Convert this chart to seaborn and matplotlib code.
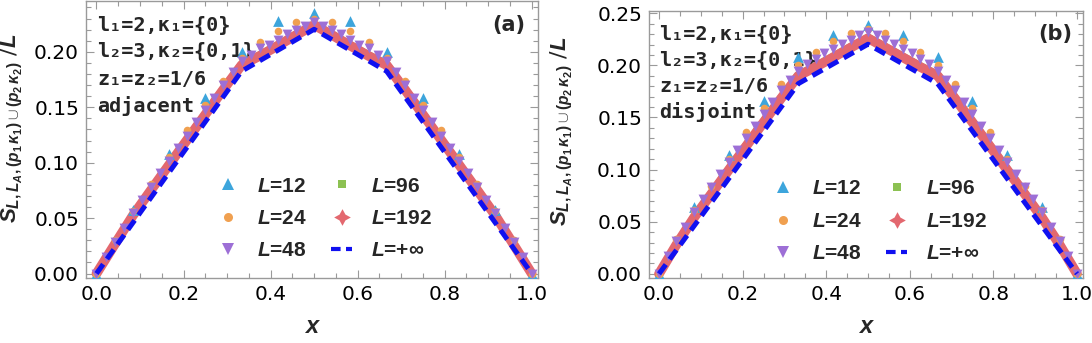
import numpy as np
import pandas as pd
import matplotlib
matplotlib.use("Agg")
import matplotlib.pyplot as plt
import seaborn as sns
from matplotlib.lines import Line2D
from matplotlib.ticker import MultipleLocator, FormatStrFormatter

# ---------------------------------------------------------------- data
# S/L sampled at x = k/L for each chain length (panel a: adjacent, panel b: disjoint)
L12_a = [0, 0.0570, 0.1080, 0.1580, 0.1995, 0.2276, 0.2346, 0.2276, 0.1995, 0.1580, 0.1080, 0.0570, 0]
L24_a = [0, 0.0300, 0.0560, 0.0806, 0.1050, 0.1295, 0.1520, 0.1740, 0.1940, 0.2090, 0.2190, 0.2270, 0.2300,
         0.2270, 0.2190, 0.2090, 0.1940, 0.1740, 0.1520, 0.1295, 0.1050, 0.0806, 0.0560, 0.0300, 0]
L48_a = [0, 0.0150, 0.0284, 0.0415, 0.0545, 0.0660, 0.0785, 0.0905, 0.1015, 0.1130, 0.1245, 0.1365, 0.1475,
         0.1585, 0.1700, 0.1815, 0.1915, 0.1975, 0.2030, 0.2065, 0.2110, 0.2160, 0.2195, 0.2235, 0.2270,
         0.2235, 0.2195, 0.2160, 0.2110, 0.2065, 0.2030, 0.1975, 0.1915, 0.1815, 0.1700, 0.1585, 0.1475,
         0.1365, 0.1245, 0.1130, 0.1015, 0.0905, 0.0785, 0.0660, 0.0545, 0.0415, 0.0284, 0.0150, 0]
# L=96 and L=192 listed on the x = k/24 sub-grid
L96_a = [0, 0.0270, 0.0532, 0.0762, 0.0990, 0.1218, 0.1445, 0.1672, 0.1892, 0.1974, 0.2066, 0.2161, 0.2253,
         0.2161, 0.2066, 0.1974, 0.1892, 0.1672, 0.1445, 0.1218, 0.0990, 0.0762, 0.0532, 0.0270, 0]
L192_a = [0, 0.0262, 0.0522, 0.0752, 0.0980, 0.1207, 0.1434, 0.1661, 0.1880, 0.1963, 0.2055, 0.2150, 0.2242,
          0.2150, 0.2055, 0.1963, 0.1880, 0.1661, 0.1434, 0.1207, 0.0980, 0.0752, 0.0522, 0.0262, 0]

L12_b = [0, 0.0640, 0.1143, 0.1660, 0.2085, 0.2292, 0.2388, 0.2292, 0.2085, 0.1660, 0.1143, 0.0640, 0]
L24_b = [0, 0.0330, 0.0615, 0.0846, 0.1105, 0.1362, 0.1590, 0.1820, 0.2005, 0.2132, 0.2238, 0.2314, 0.2345,
         0.2314, 0.2238, 0.2132, 0.2005, 0.1820, 0.1590, 0.1362, 0.1105, 0.0846, 0.0615, 0.0330, 0]
L48_b = [0, 0.0175, 0.0315, 0.0450, 0.0590, 0.0720, 0.0835, 0.0955, 0.1070, 0.1190, 0.1300, 0.1414, 0.1535,
         0.1653, 0.1760, 0.1860, 0.1950, 0.2010, 0.2065, 0.2115, 0.2160, 0.2205, 0.2245, 0.2290, 0.2325,
         0.2290, 0.2245, 0.2205, 0.2160, 0.2115, 0.2065, 0.2010, 0.1950, 0.1860, 0.1760, 0.1653, 0.1535,
         0.1414, 0.1300, 0.1190, 0.1070, 0.0955, 0.0835, 0.0720, 0.0590, 0.0450, 0.0315, 0.0175, 0]
L96_b = [0, 0.0290, 0.0550, 0.0780, 0.1010, 0.1240, 0.1468, 0.1696, 0.1915, 0.1998, 0.2090, 0.2182, 0.2272,
         0.2182, 0.2090, 0.1998, 0.1915, 0.1696, 0.1468, 0.1240, 0.1010, 0.0780, 0.0550, 0.0290, 0]
L192_b = [0, 0.0280, 0.0537, 0.0766, 0.0995, 0.1224, 0.1453, 0.1681, 0.1900, 0.1985, 0.2077, 0.2170, 0.2260,
          0.2170, 0.2077, 0.1985, 0.1900, 0.1681, 0.1453, 0.1224, 0.0995, 0.0766, 0.0537, 0.0280, 0]

# thermodynamic limit: piecewise linear with kinks at x = 1/3, 1/2, 2/3
x_inf = [0, 1 / 3, 1 / 2, 2 / 3, 1]
S_inf = [0, 0.1825, 0.2203, 0.1825, 0]

labels_a = ["l₁=2,κ₁={0}", "l₂=3,κ₂={0,1}", "z₁=z₂=1/6", "adjacent"]
labels_b = ["l₁=2,κ₁={0}", "l₂=3,κ₂={0,1}", "z₁=z₂=1/6", "disjoint"]

# ---------------------------------------------------------------- style
sns.set_style("ticks")
plt.rcParams["font.family"] = ["DejaVu Sans"]
plt.rcParams["mathtext.fontset"] = "custom"
plt.rcParams["mathtext.it"] = "Liberation Sans:italic:bold"
plt.rcParams["mathtext.rm"] = "Liberation Sans:bold"
plt.rcParams["mathtext.bf"] = "Liberation Sans:bold"

C12, C24, C48 = "#3da5dc", "#f0a050", "#9d6fd6"
C96, C192, CINF = "#8cc152", "#e3686f", "#1010f0"
FRAME = "#9a9a9a"
DASH = (2.3, 1.3)


def grid(values):
    n = len(values) - 1
    return np.arange(n + 1) / n


def draw(ax, s12, s24, s48, s96, s192, texts, tag, ymax, leg_anchor):
    sns.lineplot(x=grid(s96), y=s96, ax=ax, color=C96, linewidth=5, zorder=3, legend=False)
    sns.lineplot(x=grid(s192), y=s192, ax=ax, color=C192, linewidth=7, zorder=4, legend=False)
    for vals, col, mk, size in [(s12, C12, "^", 60), (s24, C24, "o", 30), (s48, C48, "v", 50)]:
        sns.scatterplot(x=grid(vals), y=vals, ax=ax, color=col, marker=mk, s=size,
                        linewidth=0, zorder=5, legend=False)
    ax.plot(x_inf, S_inf, color=CINF, linewidth=3.6, dashes=DASH, zorder=6)

    ax.set_xlim(-0.024, 1.0145)
    ax.set_ylim(-0.004, ymax)
    ax.xaxis.set_major_locator(MultipleLocator(0.2))
    ax.xaxis.set_minor_locator(MultipleLocator(0.05))
    ax.yaxis.set_major_locator(MultipleLocator(0.05))
    ax.yaxis.set_minor_locator(MultipleLocator(0.01))
    ax.xaxis.set_major_formatter(FormatStrFormatter("%.1f"))
    ax.yaxis.set_major_formatter(FormatStrFormatter("%.2f"))
    ax.tick_params(which="both", direction="in", top=True, right=True, color=FRAME,
                   labelsize=14.5, labelcolor="black", width=0.8)
    ax.tick_params(which="major", length=6, pad=5)
    ax.tick_params(which="minor", length=3.5)
    for sp in ax.spines.values():
        sp.set_color(FRAME)
        sp.set_linewidth(1.0)

    ax.set_xlabel("x", fontsize=17, family="Liberation Sans", fontstyle="italic",
                  fontweight="bold")
    ax.set_ylabel(r"$S_{L,L_A,(p_1\,\kappa_1)\cup(p_2\,\kappa_2)}$ /$L$", fontsize=16)

    ys = [0.913, 0.816, 0.718, 0.622]
    for t, yy in zip(texts, ys):
        ax.text(0.024, yy, t, transform=ax.transAxes, ha="left", va="center",
                family="DejaVu Sans Mono", fontweight="bold", fontsize=14.5)
    ax.text(0.935, 0.913, tag, transform=ax.transAxes, ha="center", va="center",
            fontweight="bold", fontsize=15)

    handles = [
        Line2D([], [], ls="none", marker="^", ms=9, color=C12, mew=0),
        Line2D([], [], ls="none", marker="o", ms=6.5, color=C24, mew=0),
        Line2D([], [], ls="none", marker="v", ms=9, color=C48, mew=0),
        Line2D([], [], ls="none", marker="s", ms=6, color=C96, mew=0),
        Line2D([], [], ls="none", marker=(4, 1, 0), ms=12, color=C192, mew=0),
        Line2D([], [], color=CINF, lw=3, dashes=DASH),
    ]
    names = ["$L$=12", "$L$=24", "$L$=48", "$L$=96", "$L$=192", r"$L$=+$\infty$"]
    ax.legend(handles, names, ncol=2, loc="upper left", bbox_to_anchor=leg_anchor,
              frameon=False, handlelength=1.0, handletextpad=0.9, columnspacing=1.15,
              labelspacing=0.64, borderpad=0, borderaxespad=0,
              prop={"family": "Liberation Sans", "weight": "bold", "size": 15})


fig = plt.figure(figsize=(10.92, 3.43), dpi=100)
ax1 = fig.add_axes([0.0788, 0.1895, 0.4139, 0.8075])
ax2 = fig.add_axes([0.5943, 0.1895, 0.3975, 0.7785])

draw(ax1, L12_a, L24_a, L48_a, L96_a, L192_a, labels_a, "(a)", 0.2458, (0.291, 0.366))
draw(ax2, L12_b, L24_b, L48_b, L96_b, L192_b, labels_b, "(b)", 0.2522, (0.2846, 0.369))

ax1.yaxis.set_label_coords(-0.135, 0.54)
ax2.yaxis.set_label_coords(-0.17, 0.55)
ax1.xaxis.set_label_coords(0.5, -0.135)
ax2.xaxis.set_label_coords(0.5, -0.14)

fig.savefig("out.png", dpi=100)
